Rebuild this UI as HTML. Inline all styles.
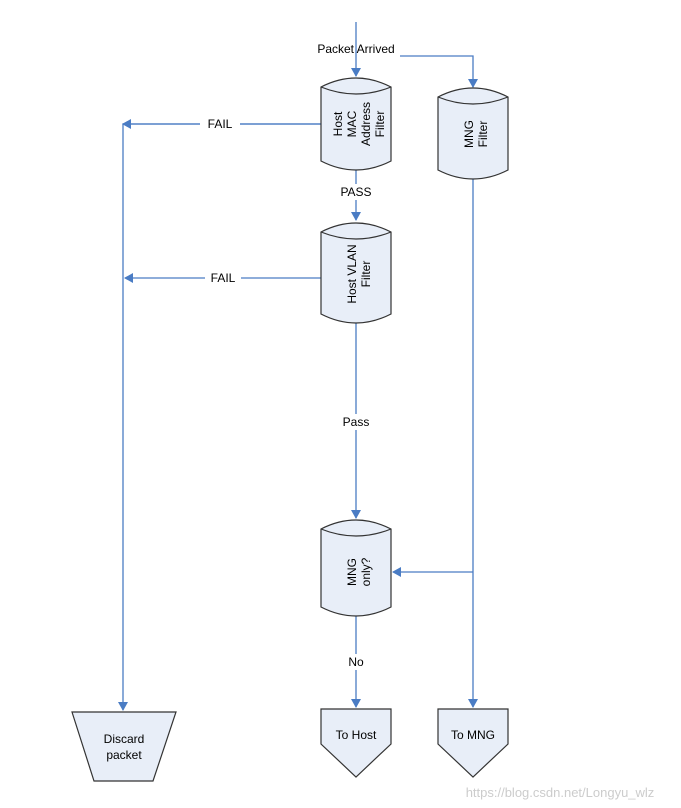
<!DOCTYPE html>
<html><head><style>body{margin:0;background:#fff}svg{display:block}text{font-family:"Liberation Sans",Arial,sans-serif;font-size:12px;fill:#000}</style></head><body>
<svg width="681" height="808" viewBox="0 0 681 808" xmlns="http://www.w3.org/2000/svg">
<defs><marker id="a" markerWidth="10" markerHeight="10" refX="8" refY="5" orient="auto" markerUnits="userSpaceOnUse"><path d="M0,0 L9,5 L0,10 Z" fill="#4a7cc4"/></marker></defs>
<g stroke="#4a7cc4" stroke-width="1.3" fill="none">
<path d="M356,22 V76" marker-end="url(#a)"/>
<path d="M400,56 H473 V87" marker-end="url(#a)"/>
<path d="M356,170 V220" marker-end="url(#a)"/>
<path d="M356,323 V518" marker-end="url(#a)"/>
<path d="M356,616 V707" marker-end="url(#a)"/>
<path d="M473,179 V707" marker-end="url(#a)"/>
<path d="M473,572 H393" marker-end="url(#a)"/>
<path d="M321,124 H123 V710" marker-end="url(#a)"/>
<path d="M321,124 H123" marker-end="url(#a)"/>
<path d="M321,278 H125" marker-end="url(#a)"/>
</g>
<rect x="200" y="116" width="40" height="16" fill="#fff"/>
<rect x="205" y="270" width="36" height="16" fill="#fff"/>
<rect x="335" y="184" width="42" height="16" fill="#fff"/>
<rect x="338" y="414" width="36" height="16" fill="#fff"/>
<rect x="343" y="654" width="26" height="16" fill="#fff"/>
<text x="220" y="128" text-anchor="middle">FAIL</text>
<text x="223" y="282" text-anchor="middle">FAIL</text>
<text x="356" y="196" text-anchor="middle">PASS</text>
<text x="356" y="426" text-anchor="middle">Pass</text>
<text x="356" y="666" text-anchor="middle">No</text>
<text x="356" y="53" text-anchor="middle">Packet Arrived</text>
<g fill="#e8eef8" stroke="#333" stroke-width="1.2">
<path d="M321,87 Q356,69 391,87 L391,161 Q356,179 321,161 Z"/><path d="M321,87 Q356,101 391,87" fill="none"/>
<path d="M438,97 Q473,79 508,97 L508,170 Q473,188 438,170 Z"/><path d="M438,97 Q473,111 508,97" fill="none"/>
<path d="M321,232 Q356,214 391,232 L391,314 Q356,332 321,314 Z"/><path d="M321,232 Q356,246 391,232" fill="none"/>
<path d="M321,529 Q356,511 391,529 L391,607 Q356,625 321,607 Z"/><path d="M321,529 Q356,543 391,529" fill="none"/>
<path d="M72,712 H176 L153,781 H94 Z"/>
<path d="M321,709 H391 V744 L356,777 L321,744 Z"/>
<path d="M438,709 H508 V744 L473,777 L438,744 Z"/>
</g>
<g text-anchor="middle">
<text transform="translate(356,124) rotate(-90)"><tspan x="0" y="-14">Host</tspan><tspan x="0" y="0">MAC</tspan><tspan x="0" y="14">Address</tspan><tspan x="0" y="28">Filter</tspan></text>
<text transform="translate(473,134) rotate(-90)"><tspan x="0" y="0">MNG</tspan><tspan x="0" y="14">Filter</tspan></text>
<text transform="translate(356,274) rotate(-90)"><tspan x="0" y="0">Host VLAN</tspan><tspan x="0" y="14">Filter</tspan></text>
<text transform="translate(356,572) rotate(-90)"><tspan x="0" y="0">MNG</tspan><tspan x="0" y="14">only?</tspan></text>
<text x="124" y="743">Discard</text><text x="124" y="759">packet</text>
<text x="356" y="739">To Host</text>
<text x="473" y="739">To MNG</text>
</g>
<text x="560" y="797" text-anchor="middle" style="fill:#ccc;font-size:13px">https://blog.csdn.net/Longyu_wlz</text>
</svg>
</body></html>
